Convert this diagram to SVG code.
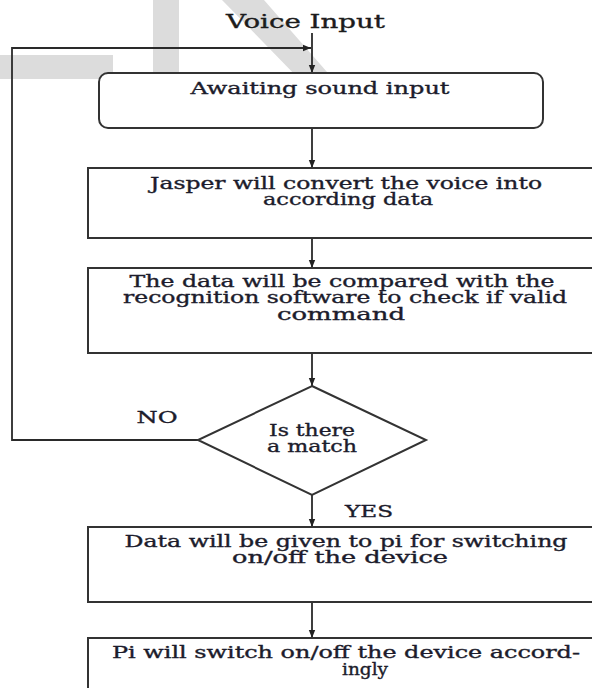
<svg xmlns="http://www.w3.org/2000/svg" width="592" height="688" viewBox="0 0 592 688">
  <defs>
    <marker id="arrow" viewBox="0 0 10 10" refX="10" refY="5" markerWidth="8" markerHeight="8" markerUnits="userSpaceOnUse" orient="auto">
      <path d="M0,1 L10,5 L0,9 z" fill="#222"/>
    </marker>
    <style>
      .box { fill: #ffffff; stroke: #333333; stroke-width: 2; }
      .arrow { fill: none; stroke: #2a2a2a; stroke-width: 1.8; marker-end: url(#arrow); }
      .lbl { font-family: "DejaVu Serif", "Liberation Serif", serif; font-size: 16px; fill: #1c1c2c; stroke: #1c1c2c; stroke-width: 0.35; text-anchor: middle; }
      .title { font-family: "DejaVu Serif", "Liberation Serif", serif; font-size: 19px; fill: #1c1c1c; stroke: #1c1c1c; stroke-width: 0.35; }
      .mark { fill: #dcdcdc; }
    </style>
  </defs>

  <rect width="592" height="688" fill="#ffffff"/>

  <!-- faint background mark -->
  <g id="backmark">
    <rect class="mark" x="0" y="55" width="113" height="24"/>
    <rect class="mark" x="153" y="0" width="26" height="80"/>
    <polygon class="mark" points="222,0 264,0 334,80 300,80"/>
  </g>

  <!-- connectors -->
  <g id="connectors">
    <line class="arrow" x1="312" y1="33" x2="312" y2="73"/>
    <polyline class="arrow" points="198,440 12,440 12,48 311,48"/>
    <line class="arrow" x1="312" y1="128" x2="312" y2="168"/>
    <line class="arrow" x1="312" y1="238" x2="312" y2="268"/>
    <line class="arrow" x1="312" y1="353" x2="312" y2="386"/>
    <line class="arrow" x1="312" y1="495" x2="312" y2="527"/>
    <line class="arrow" x1="312" y1="602" x2="312" y2="638"/>
  </g>

  <text class="title" x="226" y="28" textLength="159" lengthAdjust="spacingAndGlyphs">Voice Input</text>

  <g id="await">
    <rect class="box" x="99" y="73" width="444" height="55" rx="9" ry="9"/>
    <text class="lbl" x="320" y="94" textLength="259" lengthAdjust="spacingAndGlyphs">Awaiting sound input</text>
  </g>

  <g id="convert">
    <rect class="box" x="88" y="168" width="516" height="70"/>
    <text class="lbl" x="346" y="189" textLength="392" lengthAdjust="spacingAndGlyphs">Jasper will convert the voice into</text>
    <text class="lbl" x="348" y="205" textLength="170" lengthAdjust="spacingAndGlyphs">according data</text>
  </g>

  <g id="compare">
    <rect class="box" x="88" y="268" width="516" height="85"/>
    <text class="lbl" x="342" y="287" textLength="425" lengthAdjust="spacingAndGlyphs">The data will be compared with the</text>
    <text class="lbl" x="345" y="303" textLength="444" lengthAdjust="spacingAndGlyphs">recognition software to check if valid</text>
    <text class="lbl" x="341" y="320" textLength="128" lengthAdjust="spacingAndGlyphs">command</text>
  </g>

  <g id="match">
    <polygon class="box" points="312,386 426,440 312,495 198,440"/>
    <text class="lbl" x="312" y="436" textLength="86" lengthAdjust="spacingAndGlyphs">Is there</text>
    <text class="lbl" x="312" y="452" textLength="90" lengthAdjust="spacingAndGlyphs">a match</text>
  </g>

  <text class="lbl" x="157" y="423" textLength="41" lengthAdjust="spacingAndGlyphs">NO</text>
  <text class="lbl" x="369" y="517" textLength="48" lengthAdjust="spacingAndGlyphs">YES</text>

  <g id="handover">
    <rect class="box" x="88" y="527" width="516" height="75"/>
    <text class="lbl" x="346" y="547" textLength="443" lengthAdjust="spacingAndGlyphs">Data will be given to pi for switching</text>
    <text class="lbl" x="340" y="563" textLength="216" lengthAdjust="spacingAndGlyphs">on/off the device</text>
  </g>

  <g id="switch">
    <rect class="box" x="88" y="638" width="516" height="60"/>
    <text class="lbl" x="346" y="658" textLength="468" lengthAdjust="spacingAndGlyphs">Pi will switch on/off the device accord-</text>
    <text class="lbl" x="365" y="675" textLength="46" lengthAdjust="spacingAndGlyphs">ingly</text>
  </g>
</svg>
